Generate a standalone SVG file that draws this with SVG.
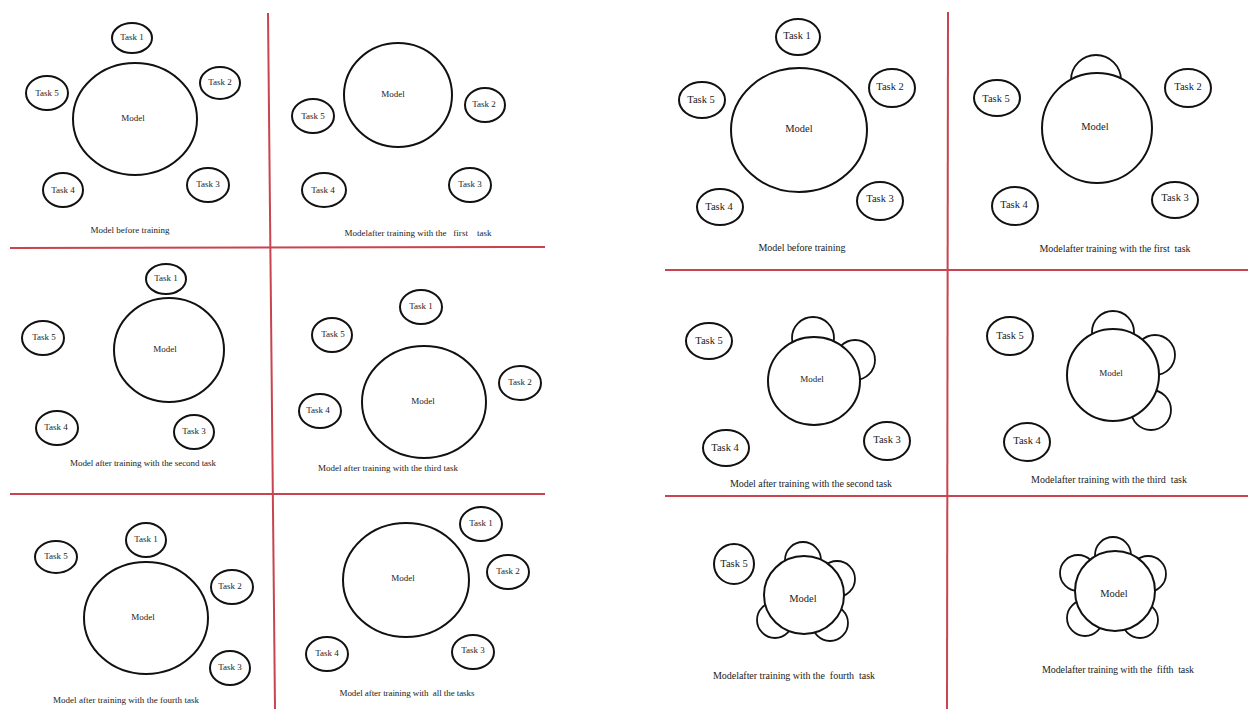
<svg xmlns="http://www.w3.org/2000/svg" width="1248" height="709" viewBox="0 0 1248 709">
<style>
.bg{fill:#ffffff}
.div{stroke:#c8444e;stroke-width:2;fill:none}
.task{fill:#ffffff;stroke:#111;stroke-width:2}
.model{fill:#ffffff;stroke:#111;stroke-width:2}
.bump{fill:#ffffff;stroke:#111;stroke-width:1.8}
.tl{font-family:"Liberation Serif","Times New Roman",serif;font-size:9px;fill:#222;text-anchor:middle}
.tr{font-family:"Liberation Serif","Times New Roman",serif;font-size:10.5px;fill:#222;text-anchor:middle}
.cl{font-family:"Liberation Serif","Times New Roman",serif;font-size:9px;fill:#222;text-anchor:middle;white-space:pre}
.cr{font-family:"Liberation Serif","Times New Roman",serif;font-size:10px;fill:#222;text-anchor:middle;white-space:pre}
</style>
<rect class="bg" x="0" y="0" width="1248" height="709"/>

<g id="dividers">
<line class="div" x1="268" y1="13" x2="275" y2="709"/>
<line class="div" x1="10" y1="248" x2="545" y2="247"/>
<line class="div" x1="10" y1="494" x2="545" y2="494"/>
<line class="div" x1="948" y1="12" x2="947" y2="709"/>
<line class="div" x1="665" y1="270" x2="1248" y2="270"/>
<line class="div" x1="665" y1="496" x2="1248" y2="496"/>
</g>

<!-- Left panel 1 -->
<g id="L1">
<g id="L1-model"><ellipse class="model" cx="135" cy="119" rx="62" ry="56"/><text class="tl" x="133" y="121">Model</text></g>
<g id="L1-t1"><ellipse class="task" cx="132" cy="38" rx="20" ry="15"/><text class="tl" x="132" y="40">Task 1</text></g>
<g id="L1-t2"><ellipse class="task" cx="220" cy="83" rx="20" ry="16"/><text class="tl" x="220" y="85">Task 2</text></g>
<g id="L1-t3"><ellipse class="task" cx="208" cy="185" rx="21" ry="17"/><text class="tl" x="208" y="187">Task 3</text></g>
<g id="L1-t4"><ellipse class="task" cx="63" cy="190" rx="20" ry="17"/><text class="tl" x="63" y="193">Task 4</text></g>
<g id="L1-t5"><ellipse class="task" cx="47" cy="93" rx="21" ry="17"/><text class="tl" x="47" y="96">Task 5</text></g>
<text class="cl" x="130" y="233">Model before training</text>
</g>

<!-- Left panel 2 -->
<g id="L2">
<g id="L2-model"><ellipse class="model" cx="398" cy="95" rx="54" ry="52"/><text class="tl" x="393" y="97">Model</text></g>
<g id="L2-t2"><ellipse class="task" cx="485" cy="105" rx="20" ry="17"/><text class="tl" x="484" y="107">Task 2</text></g>
<g id="L2-t3"><ellipse class="task" cx="470" cy="185" rx="21" ry="17"/><text class="tl" x="470" y="187">Task 3</text></g>
<g id="L2-t4"><ellipse class="task" cx="324" cy="190" rx="22" ry="17"/><text class="tl" x="323" y="193">Task 4</text></g>
<g id="L2-t5"><ellipse class="task" cx="313" cy="116" rx="21" ry="17"/><text class="tl" x="313" y="119">Task 5</text></g>
<text class="cl" x="418" y="236" textLength="147">Modelafter training with the   first    task</text>
</g>

<!-- Left panel 3 -->
<g id="L3">
<g id="L3-model"><ellipse class="model" cx="169" cy="350" rx="55" ry="52"/><text class="tl" x="165" y="352">Model</text></g>
<g id="L3-t1"><ellipse class="task" cx="166" cy="279" rx="20" ry="15"/><text class="tl" x="166" y="281">Task 1</text></g>
<g id="L3-t3"><ellipse class="task" cx="194" cy="432" rx="20" ry="17"/><text class="tl" x="194" y="434">Task 3</text></g>
<g id="L3-t4"><ellipse class="task" cx="57" cy="428" rx="21" ry="17"/><text class="tl" x="56" y="430">Task 4</text></g>
<g id="L3-t5"><ellipse class="task" cx="43" cy="338" rx="21" ry="17"/><text class="tl" x="44" y="340">Task 5</text></g>
<text class="cl" x="143" y="466" textLength="146">Model after training with the second task</text>
</g>

<!-- Left panel 4 -->
<g id="L4">
<g id="L4-model"><ellipse class="model" cx="424" cy="402" rx="62" ry="56"/><text class="tl" x="423" y="404">Model</text></g>
<g id="L4-t1"><ellipse class="task" cx="421" cy="307" rx="21" ry="17"/><text class="tl" x="421" y="309">Task 1</text></g>
<g id="L4-t2"><ellipse class="task" cx="520" cy="383" rx="21" ry="17"/><text class="tl" x="520" y="385">Task 2</text></g>
<g id="L4-t4"><ellipse class="task" cx="320" cy="411" rx="21" ry="17"/><text class="tl" x="318" y="413">Task 4</text></g>
<g id="L4-t5"><ellipse class="task" cx="332" cy="335" rx="20" ry="17"/><text class="tl" x="333" y="337">Task 5</text></g>
<text class="cl" x="388" y="471" textLength="140">Model after training with the third task</text>
</g>

<!-- Left panel 5 -->
<g id="L5">
<g id="L5-model"><ellipse class="model" cx="146" cy="618" rx="62" ry="56"/><text class="tl" x="143" y="620">Model</text></g>
<g id="L5-t1"><ellipse class="task" cx="146" cy="540" rx="20" ry="17"/><text class="tl" x="146" y="542">Task 1</text></g>
<g id="L5-t2"><ellipse class="task" cx="232" cy="587" rx="21" ry="17"/><text class="tl" x="230" y="589">Task 2</text></g>
<g id="L5-t3"><ellipse class="task" cx="230" cy="668" rx="20" ry="17"/><text class="tl" x="230" y="670">Task 3</text></g>
<g id="L5-t5"><ellipse class="task" cx="56" cy="557" rx="21" ry="16"/><text class="tl" x="56" y="559">Task 5</text></g>
<text class="cl" x="126" y="703" textLength="146">Model after training with the fourth task</text>
</g>

<!-- Left panel 6 -->
<g id="L6">
<g id="L6-model"><ellipse class="model" cx="406" cy="580" rx="63" ry="57"/><text class="tl" x="403" y="581">Model</text></g>
<g id="L6-t1"><ellipse class="task" cx="481" cy="524" rx="21" ry="17"/><text class="tl" x="481" y="526">Task 1</text></g>
<g id="L6-t2"><ellipse class="task" cx="508" cy="572" rx="21" ry="17"/><text class="tl" x="508" y="574">Task 2</text></g>
<g id="L6-t3"><ellipse class="task" cx="473" cy="652" rx="21" ry="17"/><text class="tl" x="473" y="653">Task 3</text></g>
<g id="L6-t4"><ellipse class="task" cx="327" cy="654" rx="21" ry="17"/><text class="tl" x="327" y="656">Task 4</text></g>
<text class="cl" x="407" y="696" textLength="135">Model after training with  all the tasks</text>
</g>

<!-- Right panel 1 -->
<g id="R1">
<g id="R1-model"><ellipse class="model" cx="799" cy="130" rx="68" ry="62"/><text class="tr" x="799" y="132">Model</text></g>
<g id="R1-t1"><ellipse class="task" cx="798" cy="37" rx="22" ry="18"/><text class="tr" x="797" y="39">Task 1</text></g>
<g id="R1-t2"><ellipse class="task" cx="892" cy="88" rx="23" ry="19"/><text class="tr" x="890" y="90">Task 2</text></g>
<g id="R1-t3"><ellipse class="task" cx="880" cy="201" rx="23" ry="19"/><text class="tr" x="880" y="202">Task 3</text></g>
<g id="R1-t4"><ellipse class="task" cx="720" cy="207" rx="23" ry="18"/><text class="tr" x="719" y="210">Task 4</text></g>
<g id="R1-t5"><ellipse class="task" cx="702" cy="100" rx="23" ry="18"/><text class="tr" x="701" y="103">Task 5</text></g>
<text class="cr" x="802" y="251" textLength="87">Model before training</text>
</g>

<!-- Right panel 2 -->
<g id="R2">
<g id="R2-model">
<circle class="bump" cx="1096" cy="80" r="25"/>
<ellipse class="model" cx="1097" cy="128" rx="55" ry="55"/><text class="tr" x="1095" y="130">Model</text></g>
<g id="R2-t2"><ellipse class="task" cx="1188" cy="88" rx="23" ry="19"/><text class="tr" x="1188" y="90">Task 2</text></g>
<g id="R2-t3"><ellipse class="task" cx="1175" cy="200" rx="23" ry="18"/><text class="tr" x="1175" y="201">Task 3</text></g>
<g id="R2-t4"><ellipse class="task" cx="1015" cy="206" rx="23" ry="19"/><text class="tr" x="1014" y="208">Task 4</text></g>
<g id="R2-t5"><ellipse class="task" cx="997" cy="98" rx="23" ry="18"/><text class="tr" x="996" y="102">Task 5</text></g>
<text class="cr" x="1115" y="252" textLength="151">Modelafter training with the first  task</text>
</g>

<!-- Right panel 3 -->
<g id="R3">
<g id="R3-model">
<circle class="bump" cx="813" cy="338" r="21"/>
<circle class="bump" cx="855" cy="360" r="20"/>
<ellipse class="model" cx="814" cy="381" rx="46" ry="44"/><text class="tr" x="812" y="382" style="font-size:9px">Model</text></g>
<g id="R3-t3"><ellipse class="task" cx="887" cy="441" rx="23" ry="19"/><text class="tr" x="887" y="443">Task 3</text></g>
<g id="R3-t4"><ellipse class="task" cx="726" cy="448" rx="23" ry="18"/><text class="tr" x="725" y="451">Task 4</text></g>
<g id="R3-t5"><ellipse class="task" cx="709" cy="341" rx="23" ry="18"/><text class="tr" x="709" y="344">Task 5</text></g>
<text class="cr" x="811" y="487" textLength="162">Model after training with the second task</text>
</g>

<!-- Right panel 4 -->
<g id="R4">
<g id="R4-model">
<circle class="bump" cx="1113" cy="332" r="21"/>
<circle class="bump" cx="1155" cy="355" r="20"/>
<circle class="bump" cx="1151" cy="410" r="20"/>
<ellipse class="model" cx="1113" cy="375" rx="46" ry="46"/><text class="tr" x="1111" y="376" style="font-size:9px">Model</text></g>
<g id="R4-t4"><ellipse class="task" cx="1027" cy="442" rx="23" ry="19"/><text class="tr" x="1027" y="444">Task 4</text></g>
<g id="R4-t5"><ellipse class="task" cx="1010" cy="336" rx="23" ry="19"/><text class="tr" x="1010" y="339">Task 5</text></g>
<text class="cr" x="1109" y="483" textLength="156">Modelafter training with the third  task</text>
</g>

<!-- Right panel 5 -->
<g id="R5">
<g id="R5-model">
<circle class="bump" cx="803" cy="560" r="18"/>
<circle class="bump" cx="837" cy="579" r="18"/>
<circle class="bump" cx="830" cy="623" r="18"/>
<circle class="bump" cx="775" cy="620" r="18"/>
<ellipse class="model" cx="804" cy="595" rx="40" ry="39"/><text class="tr" x="803" y="602">Model</text></g>
<g id="R5-t5"><ellipse class="task" cx="734" cy="564" rx="20" ry="20"/><text class="tr" x="734" y="567">Task 5</text></g>
<text class="cr" x="794" y="679" textLength="162">Modelafter training with the  fourth  task</text>
</g>

<!-- Right panel 6 -->
<g id="R6">
<g id="R6-model">
<circle class="bump" cx="1113" cy="555" r="18"/>
<circle class="bump" cx="1148" cy="574" r="18"/>
<circle class="bump" cx="1140" cy="620" r="18"/>
<circle class="bump" cx="1085" cy="618" r="18"/>
<circle class="bump" cx="1078" cy="573" r="18"/>
<ellipse class="model" cx="1115" cy="591" rx="40" ry="40"/><text class="tr" x="1114" y="597">Model</text></g>
<text class="cr" x="1118" y="673" textLength="152">Modelafter training with the  fifth  task</text>
</g>
</svg>
